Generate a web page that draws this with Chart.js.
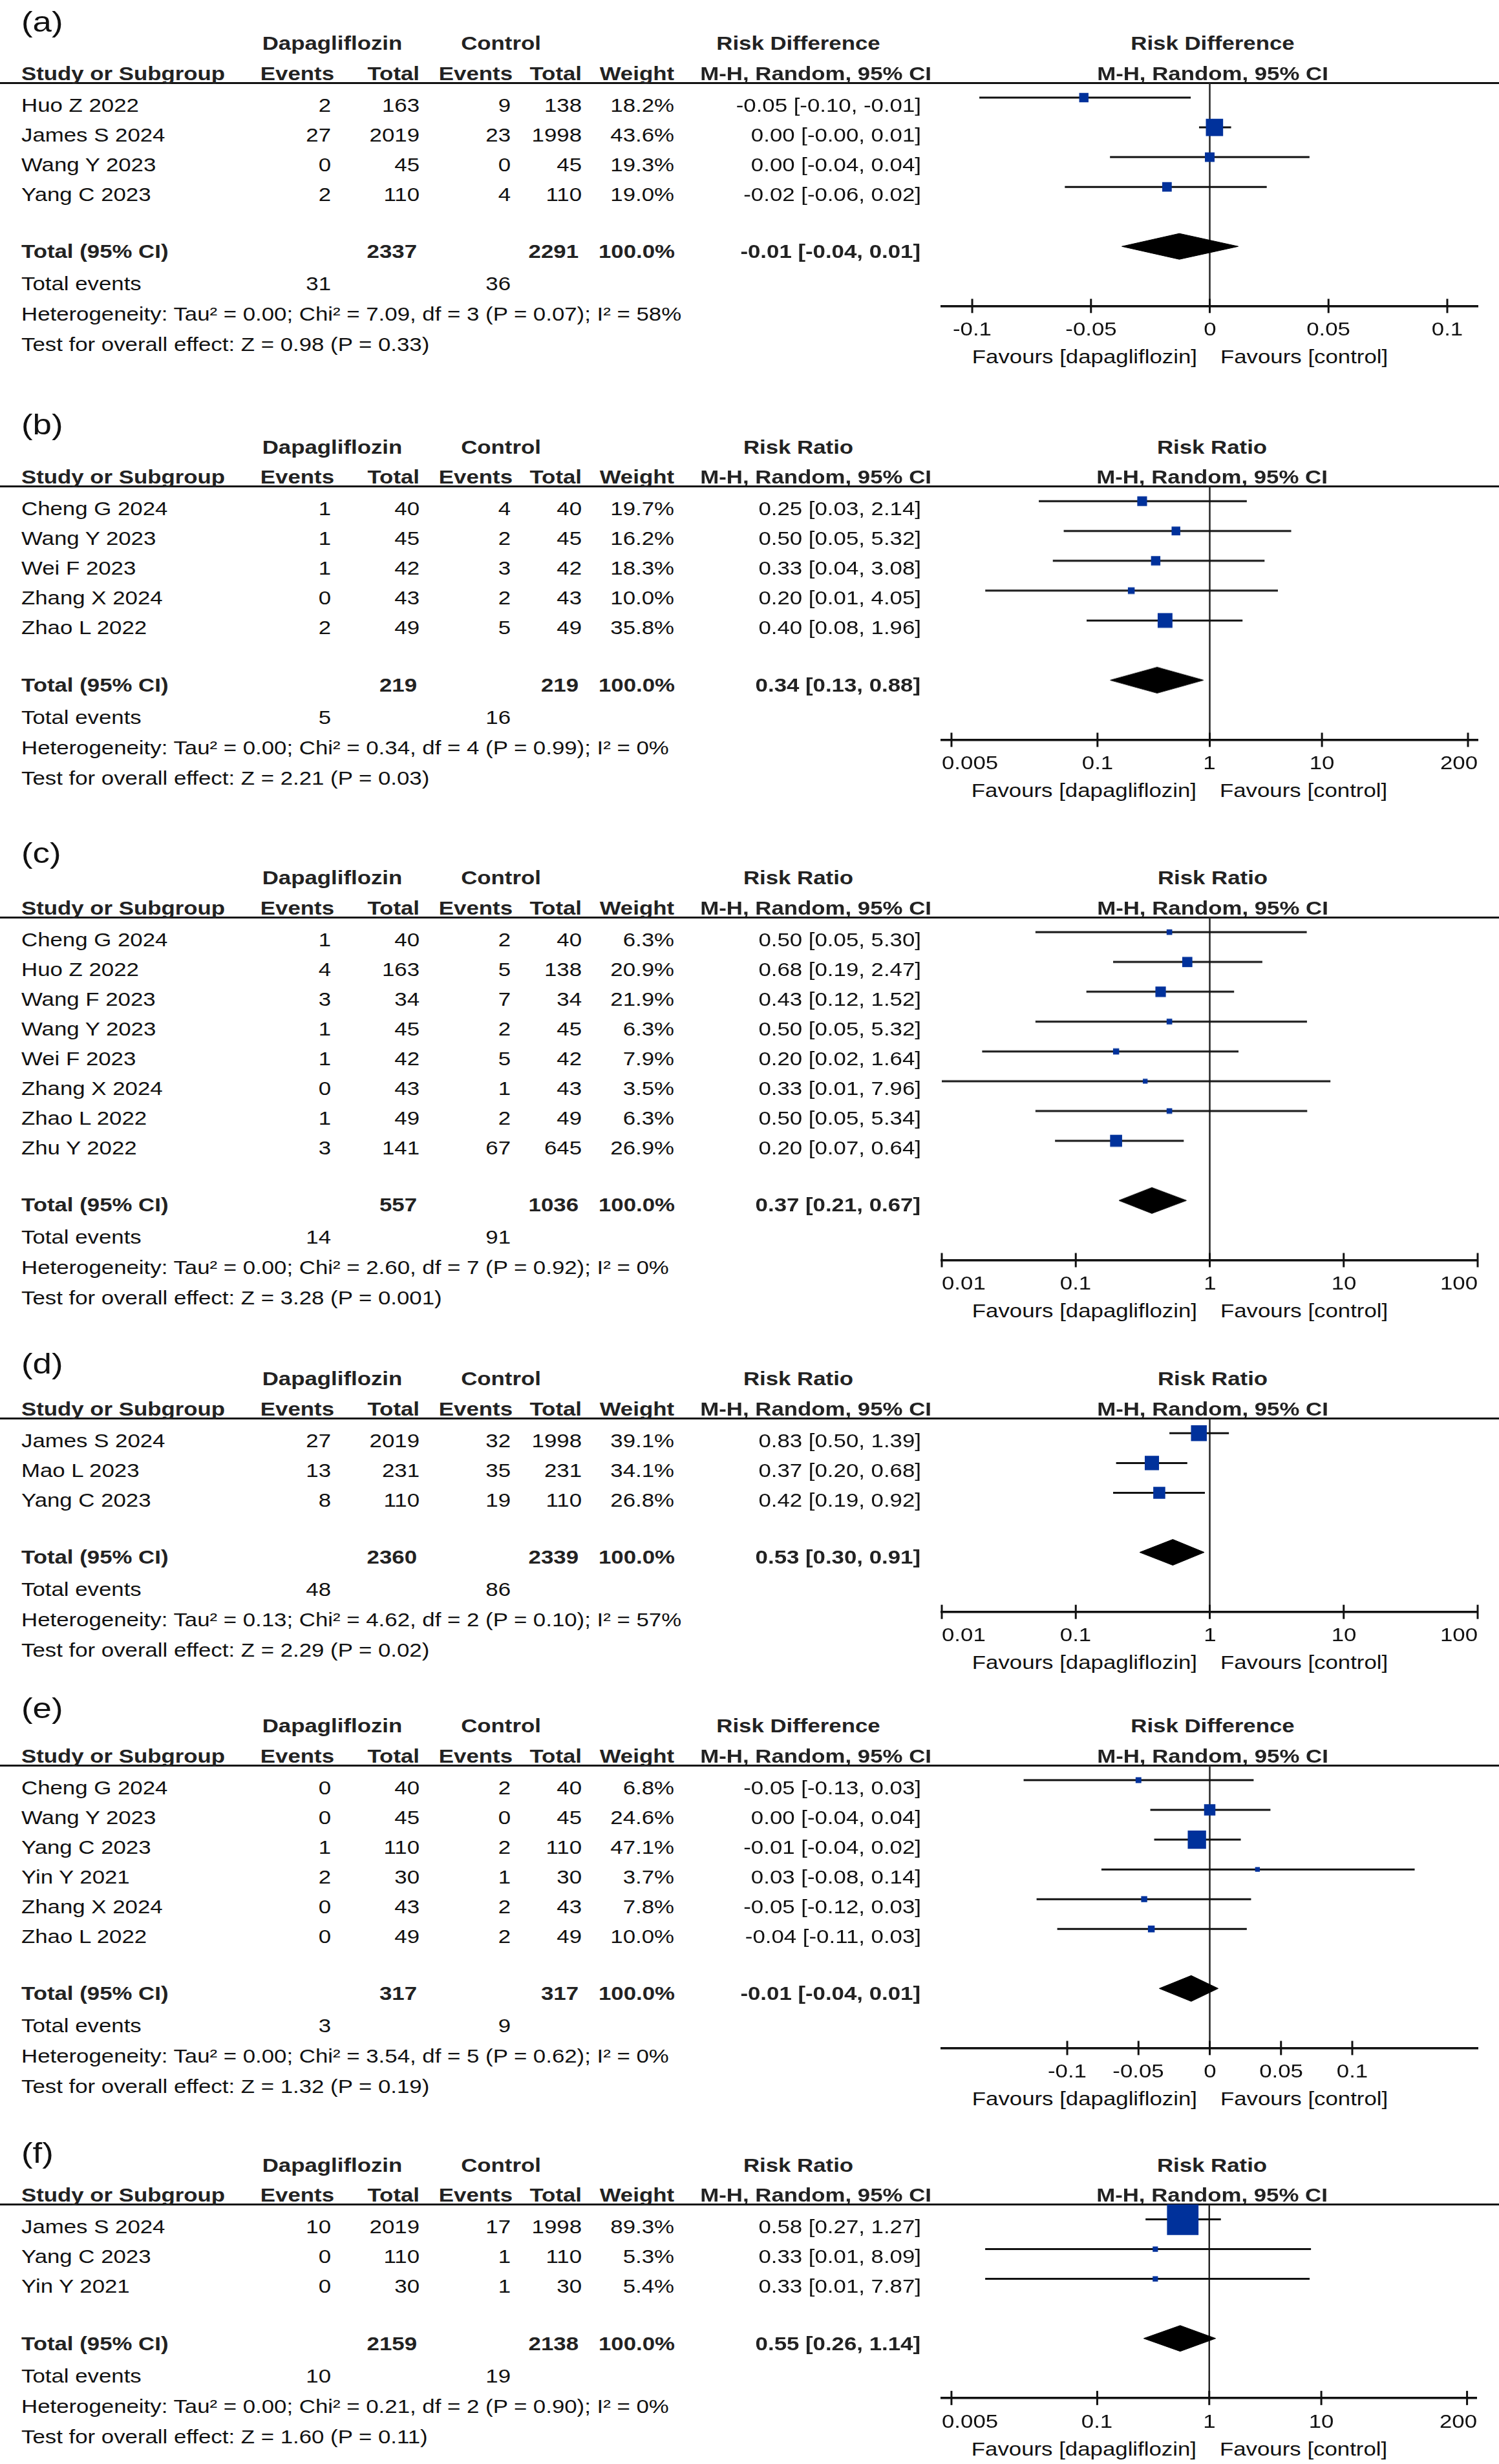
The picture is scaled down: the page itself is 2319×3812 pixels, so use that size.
<!DOCTYPE html>
<html>
<head>
<meta charset="utf-8">
<script src="https://cdn.jsdelivr.net/npm/chart.js"></script>
<style>
  html, body { margin: 0; padding: 0; background: #fff; }
  #page { position: relative; width: 2319px; height: 3812px; overflow: hidden; background: #fff;
          font-family: "Liberation Sans", Arial, sans-serif; }
  .t { position: absolute; white-space: nowrap; font-size: 29px; line-height: 1; color: #111; z-index: 2; }
  .b { font-weight: bold; color: #222; }
  .rule { position: absolute; left: 0; width: 2319px; height: 3px; background: #111; }
  .plot { position: absolute; left: 1400px; width: 919px; z-index: 1; }
</style>
</head>
<body>
<div id="page"></div>
<script>
// ---- (a) risk difference ----
const studiesA = ['Huo Z 2022', 'James S 2024', 'Wang Y 2023', 'Yang C 2023'];
const dapaEventsA = [2, 27, 0, 2];
const dapaTotalA = [163, 2019, 45, 110];
const ctrlEventsA = [9, 23, 0, 4];
const ctrlTotalA = [138, 1998, 45, 110];
const weightA = [18.2, 43.6, 19.3, 19.0];
const rdA = [-0.053, 0.002, 0.0, -0.018];
const lowA = [-0.097, -0.0045, -0.042, -0.061];
const highA = [-0.008, 0.009, 0.042, 0.024];
const pooledA = [-0.0128, -0.037, 0.012];
const totalsA = [2337, 2291];
const totalEventsA = [31, 36];
const hetA = 'Heterogeneity: Tau² = 0.00; Chi² = 7.09, df = 3 (P = 0.07); I² = 58%';
const testA = 'Test for overall effect: Z = 0.98 (P = 0.33)';

// ---- (b) risk ratio ----
const studiesB = ['Cheng G 2024', 'Wang Y 2023', 'Wei F 2023', 'Zhang X 2024', 'Zhao L 2022'];
const dapaEventsB = [1, 1, 1, 0, 2];
const dapaTotalB = [40, 45, 42, 43, 49];
const ctrlEventsB = [4, 2, 3, 2, 5];
const ctrlTotalB = [40, 45, 42, 43, 49];
const weightB = [19.7, 16.2, 18.3, 10.0, 35.8];
const rrB = [0.25, 0.50, 0.33, 0.20, 0.40];
const lowB = [0.03, 0.05, 0.04, 0.01, 0.08];
const highB = [2.14, 5.32, 3.08, 4.05, 1.96];
const pooledB = [0.34, 0.13, 0.88];
const totalsB = [219, 219];
const totalEventsB = [5, 16];
const hetB = 'Heterogeneity: Tau² = 0.00; Chi² = 0.34, df = 4 (P = 0.99); I² = 0%';
const testB = 'Test for overall effect: Z = 2.21 (P = 0.03)';

// ---- (c) risk ratio ----
const studiesC = ['Cheng G 2024', 'Huo Z 2022', 'Wang F 2023', 'Wang Y 2023', 'Wei F 2023', 'Zhang X 2024', 'Zhao L 2022', 'Zhu Y 2022'];
const dapaEventsC = [1, 4, 3, 1, 1, 0, 1, 3];
const dapaTotalC = [40, 163, 34, 45, 42, 43, 49, 141];
const ctrlEventsC = [2, 5, 7, 2, 5, 1, 2, 67];
const ctrlTotalC = [40, 138, 34, 45, 42, 43, 49, 645];
const weightC = [6.3, 20.9, 21.9, 6.3, 7.9, 3.5, 6.3, 26.9];
const rrC = [0.50, 0.68, 0.43, 0.50, 0.20, 0.33, 0.50, 0.20];
const lowC = [0.05, 0.19, 0.12, 0.05, 0.02, 0.01, 0.05, 0.07];
const highC = [5.30, 2.47, 1.52, 5.32, 1.64, 7.96, 5.34, 0.64];
const pooledC = [0.37, 0.21, 0.67];
const totalsC = [557, 1036];
const totalEventsC = [14, 91];
const hetC = 'Heterogeneity: Tau² = 0.00; Chi² = 2.60, df = 7 (P = 0.92); I² = 0%';
const testC = 'Test for overall effect: Z = 3.28 (P = 0.001)';

// ---- (d) risk ratio ----
const studiesD = ['James S 2024', 'Mao L 2023', 'Yang C 2023'];
const dapaEventsD = [27, 13, 8];
const dapaTotalD = [2019, 231, 110];
const ctrlEventsD = [32, 35, 19];
const ctrlTotalD = [1998, 231, 110];
const weightD = [39.1, 34.1, 26.8];
const rrD = [0.83, 0.37, 0.42];
const lowD = [0.50, 0.20, 0.19];
const highD = [1.39, 0.68, 0.92];
const pooledD = [0.53, 0.30, 0.91];
const totalsD = [2360, 2339];
const totalEventsD = [48, 86];
const hetD = 'Heterogeneity: Tau² = 0.13; Chi² = 4.62, df = 2 (P = 0.10); I² = 57%';
const testD = 'Test for overall effect: Z = 2.29 (P = 0.02)';

// ---- (e) risk difference ----
const studiesE = ['Cheng G 2024', 'Wang Y 2023', 'Yang C 2023', 'Yin Y 2021', 'Zhang X 2024', 'Zhao L 2022'];
const dapaEventsE = [0, 0, 1, 2, 0, 0];
const dapaTotalE = [40, 45, 110, 30, 43, 49];
const ctrlEventsE = [2, 0, 2, 1, 2, 2];
const ctrlTotalE = [40, 45, 110, 30, 43, 49];
const weightE = [6.8, 24.6, 47.1, 3.7, 7.8, 10.0];
const rdE = [-0.05, 0.0, -0.009, 0.0335, -0.046, -0.041];
const lowE = [-0.1306, -0.0417, -0.039, -0.076, -0.1215, -0.107];
const highE = [0.0308, 0.0426, 0.0218, 0.1438, 0.029, 0.026];
const pooledE = [-0.013, -0.0354, 0.0059];
const totalsE = [317, 317];
const totalEventsE = [3, 9];
const hetE = 'Heterogeneity: Tau² = 0.00; Chi² = 3.54, df = 5 (P = 0.62); I² = 0%';
const testE = 'Test for overall effect: Z = 1.32 (P = 0.19)';

// ---- (f) risk ratio ----
const studiesF = ['James S 2024', 'Yang C 2023', 'Yin Y 2021'];
const dapaEventsF = [10, 0, 0];
const dapaTotalF = [2019, 110, 30];
const ctrlEventsF = [17, 1, 1];
const ctrlTotalF = [1998, 110, 30];
const weightF = [89.3, 5.3, 5.4];
const rrF = [0.58, 0.33, 0.33];
const lowF = [0.27, 0.01, 0.01];
const highF = [1.27, 8.09, 7.87];
const pooledF = [0.55, 0.26, 1.14];
const totalsF = [2159, 2138];
const totalEventsF = [10, 19];
const hetF = 'Heterogeneity: Tau² = 0.00; Chi² = 0.21, df = 2 (P = 0.90); I² = 0%';
const testF = 'Test for overall effect: Z = 1.60 (P = 0.11)';

// axis ticks
const rdTicks = [-0.1, -0.05, 0, 0.05, 0.1];
const rdTickLabels = ['-0.1', '-0.05', '0', '0.05', '0.1'];
const rrTicksWide = [0.005, 0.1, 1, 10, 200];
const rrTickLabelsWide = ['0.005', '0.1', '1', '10', '200'];
const rrTicks = [0.01, 0.1, 1, 10, 100];
const rrTickLabels = ['0.01', '0.1', '1', '10', '100'];

// layout / style
const LINE_Y = [128, 752.6, 1419, 2194, 2731, 3410.6];   // header rule of each panel
const LABEL_Y = [37.5, 661, 1323.5, 2114, 2646.5, 3335];
const ROW = 46.05;
const STRETCH = 1.2;
const BOX_A = 5.6, BOX_B = 0.483;
const DIAMOND_H = 0.434;
const BOX_COLOR = '#00319b';
const PLOT_LEFT = 1400;
const colRight = [512, 649, 790, 900, 1043, 1425];
const colRightTotal = [512, 645, 790, 895, 1044, 1424];
const headRight = [517, 649, 793, 900, 1043, 1441];

const panels = [
  { tag: '(a)', measure: 'Risk Difference', log: false, range: [-0.1128, 0.1128], ticks: rdTicks, tickLabels: rdTickLabels,
    studies: studiesA, dE: dapaEventsA, dT: dapaTotalA, cE: ctrlEventsA, cT: ctrlTotalA, w: weightA,
    est: rdA, lo: lowA, hi: highA, pooled: pooledA, totals: totalsA, events: totalEventsA, het: hetA, test: testA },
  { tag: '(b)', measure: 'Risk Ratio', log: true, range: [0.0041, 244], ticks: rrTicksWide, tickLabels: rrTickLabelsWide,
    studies: studiesB, dE: dapaEventsB, dT: dapaTotalB, cE: ctrlEventsB, cT: ctrlTotalB, w: weightB,
    est: rrB, lo: lowB, hi: highB, pooled: pooledB, totals: totalsB, events: totalEventsB, het: hetB, test: testB },
  { tag: '(c)', measure: 'Risk Ratio', log: true, range: [0.01, 100], ticks: rrTicks, tickLabels: rrTickLabels,
    studies: studiesC, dE: dapaEventsC, dT: dapaTotalC, cE: ctrlEventsC, cT: ctrlTotalC, w: weightC,
    est: rrC, lo: lowC, hi: highC, pooled: pooledC, totals: totalsC, events: totalEventsC, het: hetC, test: testC },
  { tag: '(d)', measure: 'Risk Ratio', log: true, range: [0.01, 100], ticks: rrTicks, tickLabels: rrTickLabels,
    studies: studiesD, dE: dapaEventsD, dT: dapaTotalD, cE: ctrlEventsD, cT: ctrlTotalD, w: weightD,
    est: rrD, lo: lowD, hi: highD, pooled: pooledD, totals: totalsD, events: totalEventsD, het: hetD, test: testD },
  { tag: '(e)', measure: 'Risk Difference', log: false, range: [-0.188, 0.188], ticks: rdTicks, tickLabels: rdTickLabels,
    studies: studiesE, dE: dapaEventsE, dT: dapaTotalE, cE: ctrlEventsE, cT: ctrlTotalE, w: weightE,
    est: rdE, lo: lowE, hi: highE, pooled: pooledE, totals: totalsE, events: totalEventsE, het: hetE, test: testE },
  { tag: '(f)', measure: 'Risk Ratio', log: true, range: [0.0041, 244], ticks: rrTicksWide, tickLabels: rrTickLabelsWide,
    studies: studiesF, dE: dapaEventsF, dT: dapaTotalF, cE: ctrlEventsF, cT: ctrlTotalF, w: weightF,
    est: rrF, lo: lowF, hi: highF, pooled: pooledF, totals: totalsF, events: totalEventsF, het: hetF, test: testF }
];

const page = document.getElementById('page');
const fmt = v => v.toFixed(2);
const ciText = (e, l, h) => fmt(e) + ' [' + fmt(l) + ', ' + fmt(h) + ']';

function place(el, x, align) {
  const tx = align === 'right' ? '-100%' : align === 'center' ? '-50%' : '0px';
  const ox = align === 'right' ? '100%' : align === 'center' ? '50%' : '0%';
  el.style.left = x + 'px';
  el.style.transformOrigin = ox + ' 50%';
  el.style.transform = 'translate(' + tx + ', -50%) scaleX(' + STRETCH + ')';
}

function addText(str, x, y, align, cls, size) {
  const el = document.createElement('div');
  el.className = 't' + (cls ? ' ' + cls : '');
  el.textContent = str;
  if (size) el.style.fontSize = size + 'px';
  el.style.top = y + 'px';
  place(el, x, align);
  page.appendChild(el);
  return el;
}

function buildPanel(p, k) {
  const n = p.studies.length;
  const L = LINE_Y[k];
  const chartH = ROW * (n + 3.5);
  const padT = 14, padB = 16;
  const nullV = p.log ? 1 : 0;

  const wrap = document.createElement('div');
  wrap.className = 'plot';
  wrap.style.height = (padT + chartH + padB) + 'px';
  wrap.style.top = (L - padT) + 'px';
  const cv = document.createElement('canvas');
  wrap.appendChild(cv);
  page.appendChild(wrap);

  const datasets = [];
  // study boxes, side grows with weight
  datasets.push({
    data: p.est.map((v, i) => ({ x: v, y: i })),
    showLine: false, pointStyle: 'rect',
    pointRadius: p.w.map(w => (BOX_A + BOX_B * w) / Math.SQRT2),
    pointBackgroundColor: BOX_COLOR, pointBorderWidth: 0, order: 0
  });
  // pooled diamond
  const d = n + 1, pl = p.pooled;
  datasets.push({
    data: [{ x: pl[1], y: d }, { x: pl[0], y: d - DIAMOND_H }, { x: pl[2], y: d }, { x: pl[0], y: d + DIAMOND_H }, { x: pl[1], y: d }],
    fill: 'shape', backgroundColor: '#000', borderColor: '#000', borderWidth: 1, pointRadius: 0, tension: 0, order: 1
  });
  // confidence intervals
  p.est.forEach((v, i) => {
    datasets.push({
      data: [{ x: p.lo[i], y: i }, { x: p.hi[i], y: i }],
      borderColor: '#111', borderWidth: 3, pointRadius: 0, fill: false, order: 2
    });
  });
  // tick marks crossing the axis line
  datasets.push({
    data: p.ticks.map(v => ({ x: v, y: n + 3 })),
    showLine: false, pointStyle: 'line', pointRotation: 90, pointRadius: 11,
    pointBorderColor: '#111', pointBorderWidth: 3, clip: false, order: 3
  });
  // line of no effect
  datasets.push({
    data: [{ x: nullV, y: -0.5 }, { x: nullV, y: n + 3 }],
    borderColor: '#262626', borderWidth: 2.5, pointRadius: 0, fill: false, order: 4
  });

  const chart = new Chart(cv, {
    type: 'line',
    data: { datasets: datasets },
    options: {
      responsive: true,
      maintainAspectRatio: false,
      animation: false,
      events: [],
      layout: { padding: { left: 57, right: 33, top: padT, bottom: padB } },
      plugins: { legend: { display: false }, tooltip: { enabled: false } },
      scales: {
        x: {
          type: p.log ? 'logarithmic' : 'linear',
          min: p.range[0], max: p.range[1],
          position: 'bottom',
          afterBuildTicks: s => { s.ticks = p.ticks.map(v => ({ value: v })); },
          ticks: { display: false },
          grid: { display: false },
          border: { display: true, width: 3.5, color: '#111' }
        },
        y: {
          type: 'linear', min: -0.5, max: n + 3, reverse: true, display: false
        }
      }
    }
  });

  // keep one study row = ROW px
  const ca0 = chart.chartArea;
  const diff = chartH - (ca0.bottom - ca0.top);
  if (Math.abs(diff) > 0.5) {
    wrap.style.height = (padT + chartH + padB + diff) + 'px';
    chart.resize();
  }
  const ca = chart.chartArea;
  const top = L - ca.top;
  wrap.style.top = top + 'px';

  const ys = chart.scales.y, xs = chart.scales.x;
  const py = r => top + ys.getPixelForValue(r);
  const px = v => PLOT_LEFT + xs.getPixelForValue(v);
  const nullX = px(nullV);
  const axisY = py(n + 3);

  // panel tag and rule
  addText(p.tag, 33, LABEL_Y[k] - 4, 'left', '', 44);
  const rule = document.createElement('div');
  rule.className = 'rule';
  rule.style.top = (L - 1.5) + 'px';
  page.appendChild(rule);

  // headers
  const h1 = L - 61, h2 = L - 14.5;
  addText('Dapagliflozin', 514, h1, 'center', 'b');
  addText('Control', 775, h1, 'center', 'b');
  addText(p.measure, 1235, h1, 'center', 'b');
  addText(p.measure, nullX + 4, h1, 'center', 'b');
  addText('Study or Subgroup', 33, h2, 'left', 'b');
  ['Events', 'Total', 'Events', 'Total', 'Weight', 'M-H, Random, 95% CI'].forEach((s, j) => {
    addText(s, headRight[j], h2, 'right', 'b');
  });
  addText('M-H, Random, 95% CI', nullX + 4, h2, 'center', 'b');

  // study rows
  p.studies.forEach((s, i) => {
    const y = py(i) + 11.5;
    addText(s, 33, y, 'left');
    const cells = [p.dE[i], p.dT[i], p.cE[i], p.cT[i], p.w[i].toFixed(1) + '%', ciText(p.est[i], p.lo[i], p.hi[i])];
    cells.forEach((c, j) => addText(String(c), colRight[j], y, 'right'));
  });

  // totals
  const ty = py(n + 1) + 8;
  addText('Total (95% CI)', 33, ty, 'left', 'b');
  addText(String(p.totals[0]), colRightTotal[1], ty, 'right', 'b');
  addText(String(p.totals[1]), colRightTotal[3], ty, 'right', 'b');
  addText('100.0%', colRightTotal[4], ty, 'right', 'b');
  addText(ciText(pl[0], pl[1], pl[2]), colRightTotal[5], ty, 'right', 'b');
  const dy = py(n + 1);
  addText('Total events', 33, dy + 58, 'left');
  addText(String(p.events[0]), colRight[0], dy + 58, 'right');
  addText(String(p.events[1]), colRight[2], dy + 58, 'right');
  addText(p.het, 33, dy + 105, 'left');
  addText(p.test, 33, dy + 152, 'left');

  // axis tick labels, kept inside the axis extent
  const axL = PLOT_LEFT + ca.left, axR = PLOT_LEFT + ca.right;
  p.ticks.forEach((v, j) => {
    const x = px(v);
    const el = addText(p.tickLabels[j], x, axisY + 36, 'center');
    const w = el.getBoundingClientRect().width;
    if (x - w / 2 < axL) place(el, axL, 'left');
    else if (x + w / 2 > axR) place(el, axR, 'right');
  });
  addText('Favours [dapagliflozin]', nullX - 20, axisY + 79, 'right');
  addText('Favours [control]', nullX + 16, axisY + 79, 'left');
}

panels.forEach(buildPanel);
</script>
</body>
</html>
